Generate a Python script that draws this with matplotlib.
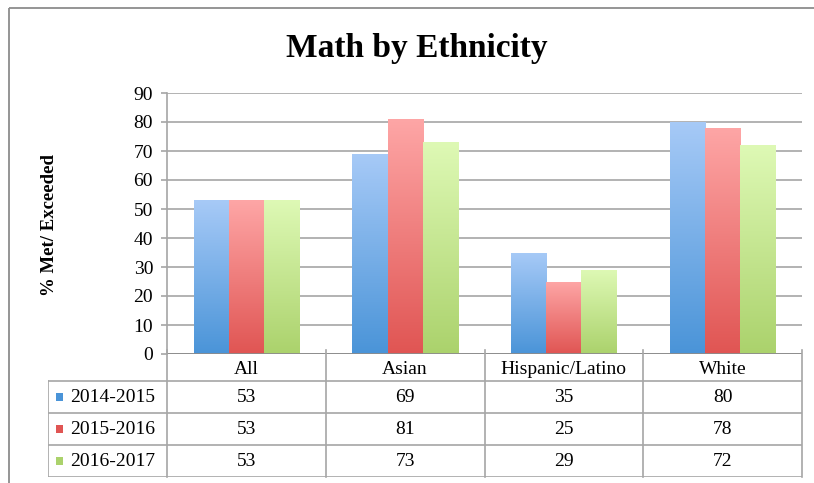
import numpy as np
import matplotlib.pyplot as plt
from matplotlib.patches import Rectangle
from matplotlib.lines import Line2D
from matplotlib.colors import LinearSegmentedColormap

categories = ["All", "Asian", "Hispanic/Latino", "White"]
series = ["2014-2015", "2015-2016", "2016-2017"]
v_1415 = [53, 69, 35, 80]
v_1516 = [53, 81, 25, 78]
v_1617 = [53, 73, 29, 72]
values = [v_1415, v_1516, v_1617]
yticks = [0, 10, 20, 30, 40, 50, 60, 70, 80, 90]

# gradient colours (top, bottom) per series
grads = [("#A7CAF7", "#4A94D8"), ("#FEA6A6", "#E05553"), ("#DEF9B5", "#ABD26C")]

W, H = 814, 483
fig = plt.figure(figsize=(W / 100, H / 100), dpi=100)
fig.patch.set_facecolor("white")
fig.patch.set_linewidth(0)
serif = "Liberation Serif"
grid_c = "#A6A6A6"


def fx(px):
    return px / W


def fy(py):
    return 1 - py / H


# outer chart border (only top and left edges are inside the image)
fig.add_artist(Line2D([fx(9), 1.05], [fy(8), fy(8)], transform=fig.transFigure,
                      color="#8C8C8C", lw=1.3, solid_capstyle="butt"))
fig.add_artist(Line2D([fx(9), fx(9)], [-0.05, fy(8)], transform=fig.transFigure,
                      color="#8C8C8C", lw=1.3, solid_capstyle="butt"))

# main plot area
x0, x1, ytop, ybot = 167, 802, 93, 354
ax = fig.add_axes([fx(x0), fy(ybot), fx(x1 - x0), fy(ytop) - fy(ybot)])
ax.set_xlim(-0.5, len(categories) - 0.5)
ax.set_ylim(0, 90)
ax.set_yticks(yticks)
ax.set_yticklabels([str(t) for t in yticks], fontfamily=serif, fontsize=14)
ax.set_xticks([])
ax.yaxis.grid(True, color=grid_c, lw=1.2)
ax.set_axisbelow(True)
for s in ["top", "right", "bottom"]:
    ax.spines[s].set_visible(False)
ax.spines["left"].set_color(grid_c)
ax.spines["left"].set_linewidth(1.2)
ax.tick_params(axis="y", length=4, color=grid_c, width=1.2, pad=6)

bw = 0.222
x = np.arange(len(categories))
for i, vals in enumerate(values):
    bars = ax.bar(x + (i - 1) * bw, vals, width=bw, color="none", lw=0, zorder=2)
    cmap = LinearSegmentedColormap.from_list("g%d" % i, [grads[i][1], grads[i][0]])
    for b in bars:
        bx, by = b.get_x(), b.get_y()
        bwid, bh = b.get_width(), b.get_height()
        im = ax.imshow(np.linspace(0, 1, 256).reshape(-1, 1), cmap=cmap,
                       extent=[bx, bx + bwid, by, by + bh], origin="lower",
                       aspect="auto", zorder=2, interpolation="bilinear")
        im.set_clip_path(b)
ax.set_xlim(-0.5, len(categories) - 0.5)
ax.set_ylim(0, 90)
ax.axhline(0, color="#8C8C8C", lw=1.3, zorder=3)

fig.text(fx(417), fy(48), "Math by Ethnicity", ha="center", va="center",
         fontfamily=serif, fontweight="bold", fontsize=24)
fig.text(fx(49), fy(225), "% Met/ Exceeded", ha="center", va="center",
         rotation=90, fontfamily=serif, fontweight="bold", fontsize=13.5)

# data table below the plot
tleft = 48
lab_w = (x0 - tleft) / ((x1 - x0) / len(categories))
tab = fig.add_axes([fx(tleft), fy(477), fx(x1 - tleft), fy(354) - fy(477)])
tab.set_xlim(-0.5 - lab_w, len(categories) - 0.5)
row_edges = [0, 32, 64, 96, 123]  # pixel heights from bottom
tab.set_ylim(0, 123)
tab.axis("off")
lc = dict(color=grid_c, lw=1.2)
# horizontal lines
tab.plot([-0.5 - lab_w, len(categories) - 0.5], [0, 0], **lc)
for yy in row_edges[1:4]:
    tab.plot([-0.5 - lab_w, len(categories) - 0.5], [yy, yy], **lc)
# vertical lines
tab.plot([-0.5 - lab_w] * 2, [0, 96], **lc)
for k in range(len(categories) + 1):
    tab.plot([k - 0.5] * 2, [0, 127], clip_on=False, **lc)
for k, c in enumerate(categories):
    tab.text(k, 107, c, ha="center", va="center", fontfamily=serif, fontsize=14)
for i, (name, vals) in enumerate(zip(series, values)):
    yc = 96 - 32 * i - 17
    tab.add_patch(Rectangle((-0.5 - lab_w + 0.05, yc - 3), 0.045, 8,
                            color=grads[i][1], lw=0))
    tab.text(-0.5 - lab_w + 0.14, yc, name, ha="left", va="center",
             fontfamily=serif, fontsize=14)
    for k, v in enumerate(vals):
        tab.text(k, yc, str(v), ha="center", va="center", fontfamily=serif, fontsize=14)

fig.savefig("out.png", dpi=100)
